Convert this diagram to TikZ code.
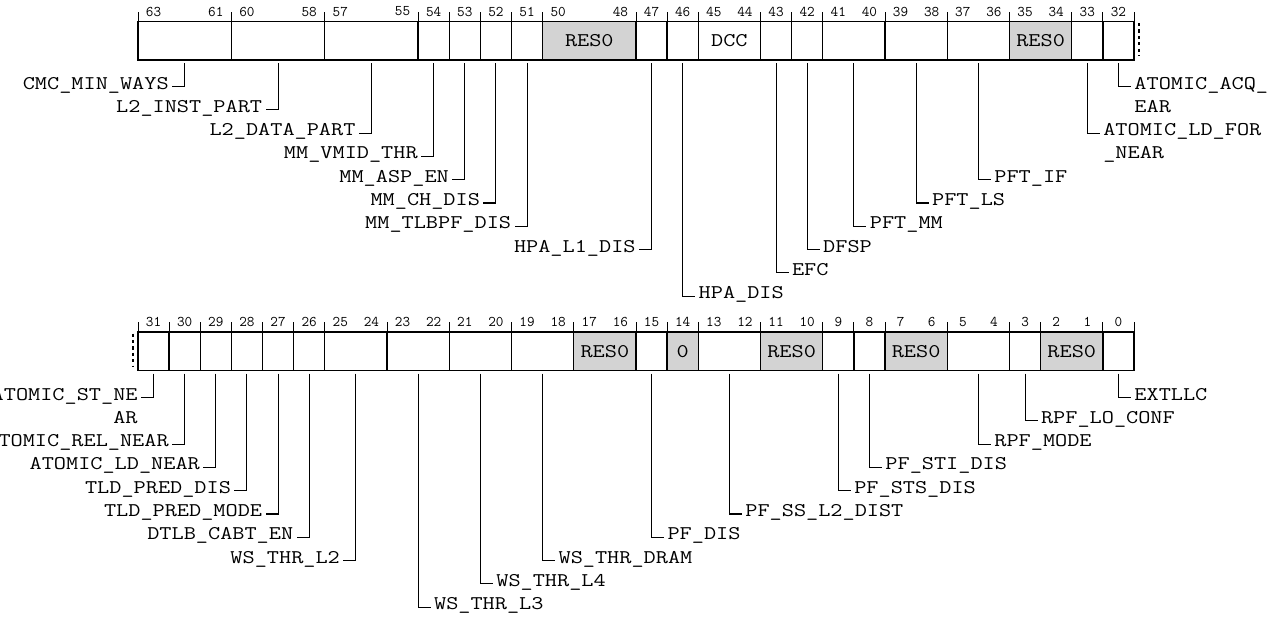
\documentclass[tikz,border=0pt]{standalone}
\usepackage{graphicx}
\definecolor{resgray}{RGB}{211,211,211}
\newcommand\sq[1]{\scalebox{1}[0.82]{#1}}
\def\W{31.125}
\def\X{138}
\tikzset{
 field/.style={draw,line width=1.4pt,inner sep=0pt,outer sep=0pt,minimum height=38.5pt,font=\fontsize{23.6}{23.6}\selectfont\ttfamily},
 res/.style={fill=resgray},
 bitnum/.style={inner sep=0pt,outer sep=0pt,font=\fontsize{14.8}{14.8}\selectfont\ttfamily},
 tick/.style={line width=1pt},
 lbl/.style={inner sep=0pt,outer sep=0pt,font=\fontsize{23.6}{23.6}\selectfont\ttfamily},
 conn/.style={line width=1.1pt},
 cont/.style={line width=2.6pt,dash pattern=on 3.2pt off 3.2pt},
}
% #1 name, #2 hi, #3 lo, #4 msb of register, #5 top y, #6 style, #7 text
\newcommand\fld[7]{%
 \pgfmathsetmacro\fldL{\X+(#4-#2)*\W}%
 \pgfmathsetmacro\fldW{(#2-#3+1)*\W}%
 \pgfmathsetmacro\fldC{\fldL+\fldW/2}%
 \expandafter\xdef\csname cx#1\endcsname{\fldC}%
 \node[field,#6,minimum width=\fldW pt] (#1) at (\fldC,#5+19.25) {\sq{#7}};%
 \draw[tick] (#1.north west) -- ++(0,-10);%
 \ifnum#2=#3\relax
   \node[bitnum] (n#2) at (\fldC,#5-10) {#2};%
 \else
   \node[bitnum] (n#2) at (\fldL+\W/2,#5-10) {#2};%
   \node[bitnum] (n#3) at (\fldL+\fldW-\W/2,#5-10) {#3};%
 \fi}
% #1 field, #2 label name, #3 baseline y, #4 text
\newcommand\labL[4]{%
 \edef\labC{\csname cx#1\endcsname}%
 \pgfmathsetmacro\labX{\labC-16}%
 \node[lbl,anchor=base east] (#2) at (\labX,#3) {\sq{#4}};%
 \draw[conn] ([yshift=-3pt]#1.south) |- ([xshift=3.5pt,yshift=2.5pt]#2.base east);}
\newcommand\labR[4]{%
 \edef\labC{\csname cx#1\endcsname}%
 \pgfmathsetmacro\labX{\labC+16}%
 \node[lbl,anchor=base west] (#2) at (\labX,#3) {\sq{#4}};%
 \draw[conn] ([yshift=-3pt]#1.south) |- ([xshift=-3.5pt,yshift=2.5pt]#2.base west);}
\begin{document}
\begin{tikzpicture}[x=1pt,y=-1pt]
\useasboundingbox (0,0) rectangle (1279,616);
\clip (0,0) rectangle (1279,616);
% ---- upper register ----
\fld{f63}{63}{61}{63}{21.5}{}{}
\fld{f60}{60}{58}{63}{21.5}{}{}
\fld{f57}{57}{55}{63}{21.5}{}{}
\fld{f54}{54}{54}{63}{21.5}{}{}
\fld{f53}{53}{53}{63}{21.5}{}{}
\fld{f52}{52}{52}{63}{21.5}{}{}
\fld{f51}{51}{51}{63}{21.5}{}{}
\fld{f50}{50}{48}{63}{21.5}{res}{RES0}
\fld{f47}{47}{47}{63}{21.5}{}{}
\fld{f46}{46}{46}{63}{21.5}{}{}
\fld{f45}{45}{44}{63}{21.5}{}{DCC}
\fld{f43}{43}{43}{63}{21.5}{}{}
\fld{f42}{42}{42}{63}{21.5}{}{}
\fld{f41}{41}{40}{63}{21.5}{}{}
\fld{f39}{39}{38}{63}{21.5}{}{}
\fld{f37}{37}{36}{63}{21.5}{}{}
\fld{f35}{35}{34}{63}{21.5}{res}{RES0}
\fld{f33}{33}{33}{63}{21.5}{}{}
\fld{f32}{32}{32}{63}{21.5}{}{}
\draw[tick] (f32.north east) -- ++(0,-10);
\draw[cont] ([xshift=5pt,yshift=-1.5pt]f32.north east) -- ([xshift=5pt,yshift=4pt]f32.south east);
% ---- lower register ----
\fld{f31}{31}{31}{31}{332}{}{}
\fld{f30}{30}{30}{31}{332}{}{}
\fld{f29}{29}{29}{31}{332}{}{}
\fld{f28}{28}{28}{31}{332}{}{}
\fld{f27}{27}{27}{31}{332}{}{}
\fld{f26}{26}{26}{31}{332}{}{}
\fld{f25}{25}{24}{31}{332}{}{}
\fld{f23}{23}{22}{31}{332}{}{}
\fld{f21}{21}{20}{31}{332}{}{}
\fld{f19}{19}{18}{31}{332}{}{}
\fld{f17}{17}{16}{31}{332}{res}{RES0}
\fld{f15}{15}{15}{31}{332}{}{}
\fld{f14}{14}{14}{31}{332}{res}{0}
\fld{f13}{13}{12}{31}{332}{}{}
\fld{f11}{11}{10}{31}{332}{res}{RES0}
\fld{f9}{9}{9}{31}{332}{}{}
\fld{f8}{8}{8}{31}{332}{}{}
\fld{f7}{7}{6}{31}{332}{res}{RES0}
\fld{f5}{5}{4}{31}{332}{}{}
\fld{f3}{3}{3}{31}{332}{}{}
\fld{f2}{2}{1}{31}{332}{res}{RES0}
\fld{f0}{0}{0}{31}{332}{}{}
\draw[tick] (f0.north east) -- ++(0,-10);
\draw[cont] ([xshift=-5pt,yshift=-1.5pt]f31.north west) -- ([xshift=-5pt,yshift=4pt]f31.south west);
% ---- upper labels ----
\labL{f63}{l63}{89}{CMC\_MIN\_WAYS}
\labL{f60}{l60}{89+23.3}{L2\_INST\_PART}
\labL{f57}{l57}{89+23.3*2}{L2\_DATA\_PART}
\labL{f54}{l54}{89+23.3*3}{MM\_VMID\_THR}
\labL{f53}{l53}{89+23.3*4}{MM\_ASP\_EN}
\labL{f52}{l52}{89+23.3*5}{MM\_CH\_DIS}
\labL{f51}{l51}{89+23.3*6}{MM\_TLBPF\_DIS}
\labL{f47}{l47}{89+23.3*7}{HPA\_L1\_DIS}
\labR{f46}{l46}{89+23.3*9}{HPA\_DIS}
\labR{f43}{l43}{89+23.3*8}{EFC}
\labR{f42}{l42}{89+23.3*7}{DFSP}
\labR{f41}{l41}{89+23.3*6}{PFT\_MM}
\labR{f39}{l39}{89+23.3*5}{PFT\_LS}
\labR{f37}{l37}{89+23.3*4}{PFT\_IF}
\labR{f33}{l33}{89+23.3*2}{ATOMIC\_LD\_FOR}
\node[lbl,anchor=base west] (l33b) at ([yshift=-23.3pt]l33.base west) {\sq{\_NEAR}};
\labR{f32}{l32}{89}{ATOMIC\_ACQ\_}
\node[lbl,anchor=base west] (l32b) at ([yshift=-23.3pt]l32.base west) {\sq{EAR}};
% ---- lower labels ----
\labL{f31}{l31}{400}{ATOMIC\_ST\_NE}
\node[lbl,anchor=base east] (l31b) at ([yshift=-23.3pt]l31.base east) {\sq{AR}};
\labL{f30}{l30}{400+23.3*2}{ATOMIC\_REL\_NEAR}
\labL{f29}{l29}{400+23.3*3}{ATOMIC\_LD\_NEAR}
\labL{f28}{l28}{400+23.3*4}{TLD\_PRED\_DIS}
\labL{f27}{l27}{400+23.3*5}{TLD\_PRED\_MODE}
\labL{f26}{l26}{400+23.3*6}{DTLB\_CABT\_EN}
\labL{f25}{l25}{400+23.3*7}{WS\_THR\_L2}
\labR{f23}{l23}{400+23.3*9}{WS\_THR\_L3}
\labR{f21}{l21}{400+23.3*8}{WS\_THR\_L4}
\labR{f19}{l19}{400+23.3*7}{WS\_THR\_DRAM}
\labR{f15}{l15}{400+23.3*6}{PF\_DIS}
\labR{f13}{l13}{400+23.3*5}{PF\_SS\_L2\_DIST}
\labR{f9}{l9}{400+23.3*4}{PF\_STS\_DIS}
\labR{f8}{l8}{400+23.3*3}{PF\_STI\_DIS}
\labR{f5}{l5}{400+23.3*2}{RPF\_MODE}
\labR{f3}{l3}{400+23.3}{RPF\_LO\_CONF}
\labR{f0}{l0}{400}{EXTLLC}
\end{tikzpicture}
\end{document}
